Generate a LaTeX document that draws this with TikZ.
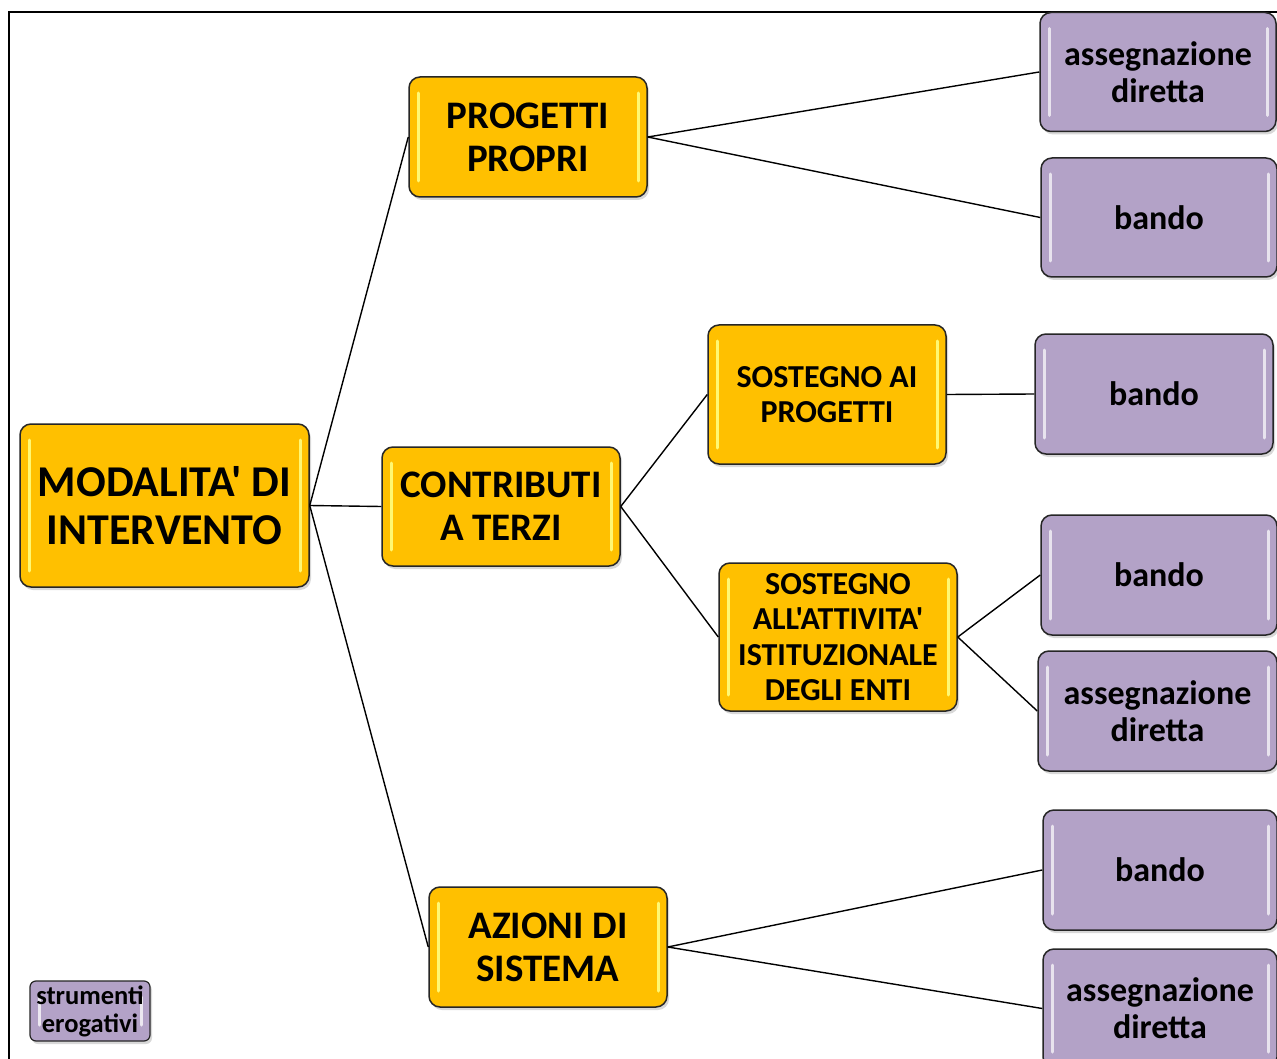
\documentclass[tikz,border=0pt]{standalone}
\usepackage{fontspec}
\setmainfont{Carlito}[Ligatures=TeXOff]
\usetikzlibrary{shadows}
\definecolor{oro}{HTML}{FFC000}
\definecolor{lilla}{HTML}{B3A2C7}
\begin{document}
\begin{tikzpicture}[x=1pt,y=-1pt,
    box/.style={draw=black!85, line width=1.5pt, rounded corners=11pt, align=center,
      inner sep=0pt, drop shadow={opacity=0.3, shadow xshift=2pt, shadow yshift=-3pt}},
    gloss/.style={path picture={
        \draw[#1, line width=3pt, line cap=round]
          ([xshift=9pt,yshift=-16pt]path picture bounding box.north west) --
          ([xshift=9pt,yshift=16pt]path picture bounding box.south west);
        \draw[#1, line width=3pt, line cap=round]
          ([xshift=-9pt,yshift=-16pt]path picture bounding box.north east) --
          ([xshift=-9pt,yshift=16pt]path picture bounding box.south east);
      }},
    giallo/.style={box, fill=oro, gloss=yellow!55!white},
    viola/.style={box, fill=lilla, gloss=white!70!lilla,
      minimum width=236pt, minimum height=119pt,
      font=\fontsize{34}{37}\selectfont\bfseries},
    ramo/.style={line width=1.4pt}]
  \useasboundingbox (0,0) rectangle (1277,1059);
  \clip (0,0) rectangle (1277,1059);
  \fill[white] (0,0) rectangle (1277,1059);
  \draw[line width=2pt] (9,1070) -- (9,12) -- (1290,12);

  % livello 1
  \node[giallo, minimum width=289pt, minimum height=163pt,
    font=\fontsize{44}{48}\selectfont\bfseries] (modalita) at (164.5,505.5) {MODALITA' DI\\INTERVENTO};

  % livello 2
  \node[giallo, minimum width=238pt, minimum height=120pt,
    font=\fontsize{39}{43}\selectfont\bfseries] (propri) at (528,137) {PROGETTI\\PROPRI};
  \node[giallo, minimum width=238pt, minimum height=119pt,
    font=\fontsize{39}{43}\selectfont\bfseries] (terzi) at (501,506.5) {CONTRIBUTI\\A TERZI};
  \node[giallo, minimum width=238pt, minimum height=120pt,
    font=\fontsize{39}{43}\selectfont\bfseries] (azioni) at (548,947) {AZIONI DI\\SISTEMA};

  % livello 3
  \node[giallo, minimum width=238pt, minimum height=139pt,
    font=\fontsize{32}{35}\selectfont\bfseries] (progetti) at (827,394.5) {SOSTEGNO AI\\PROGETTI};
  \node[giallo, minimum width=238pt, minimum height=148pt,
    font=\fontsize{32}{35.3}\selectfont\bfseries] (enti) at (838,637) {SOSTEGNO\\ALL'ATTIVITA'\\ISTITUZIONALE\\DEGLI ENTI};

  % strumenti
  \node[viola] (propri-ass) at (1158,72) {assegnazione\\diretta};
  \node[viola] (propri-bando) at (1159,217.5) {bando};
  \node[viola, minimum width=238pt, minimum height=120pt] (progetti-bando) at (1154,394) {bando};
  \node[viola, minimum height=120pt] (enti-bando) at (1159,575) {bando};
  \node[viola, minimum width=239pt, minimum height=120pt] (enti-ass) at (1157.5,711) {assegnazione\\diretta};
  \node[viola, minimum width=234pt, minimum height=120pt] (azioni-bando) at (1160,870) {bando};
  \node[viola, minimum width=234pt] (azioni-ass) at (1160,1008.5) {assegnazione\\diretta};

  % legenda
  \node[viola, rounded corners=6pt, line width=1.2pt, minimum width=120pt, minimum height=60pt,
    gloss=white!75!lilla, font=\fontsize{26.5}{28}\selectfont\bfseries] (legenda) at (90,1011) {strumenti\\erogativi};

  % rami
  \draw[ramo] (modalita.east) -- (propri.west);
  \draw[ramo] (modalita.east) -- (terzi.west);
  \draw[ramo] (modalita.east) -- (azioni.west);
  \draw[ramo] (propri.east) -- (propri-ass.west);
  \draw[ramo] (propri.east) -- (propri-bando.west);
  \draw[ramo] (terzi.east) -- (progetti.west);
  \draw[ramo] (terzi.east) -- (enti.west);
  \draw[ramo] (progetti.east) -- (progetti-bando.west);
  \draw[ramo] (enti.east) -- (enti-bando.west);
  \draw[ramo] (enti.east) -- (enti-ass.west);
  \draw[ramo] (azioni.east) -- (azioni-bando.west);
  \draw[ramo] (azioni.east) -- (azioni-ass.west);
\end{tikzpicture}
\end{document}
